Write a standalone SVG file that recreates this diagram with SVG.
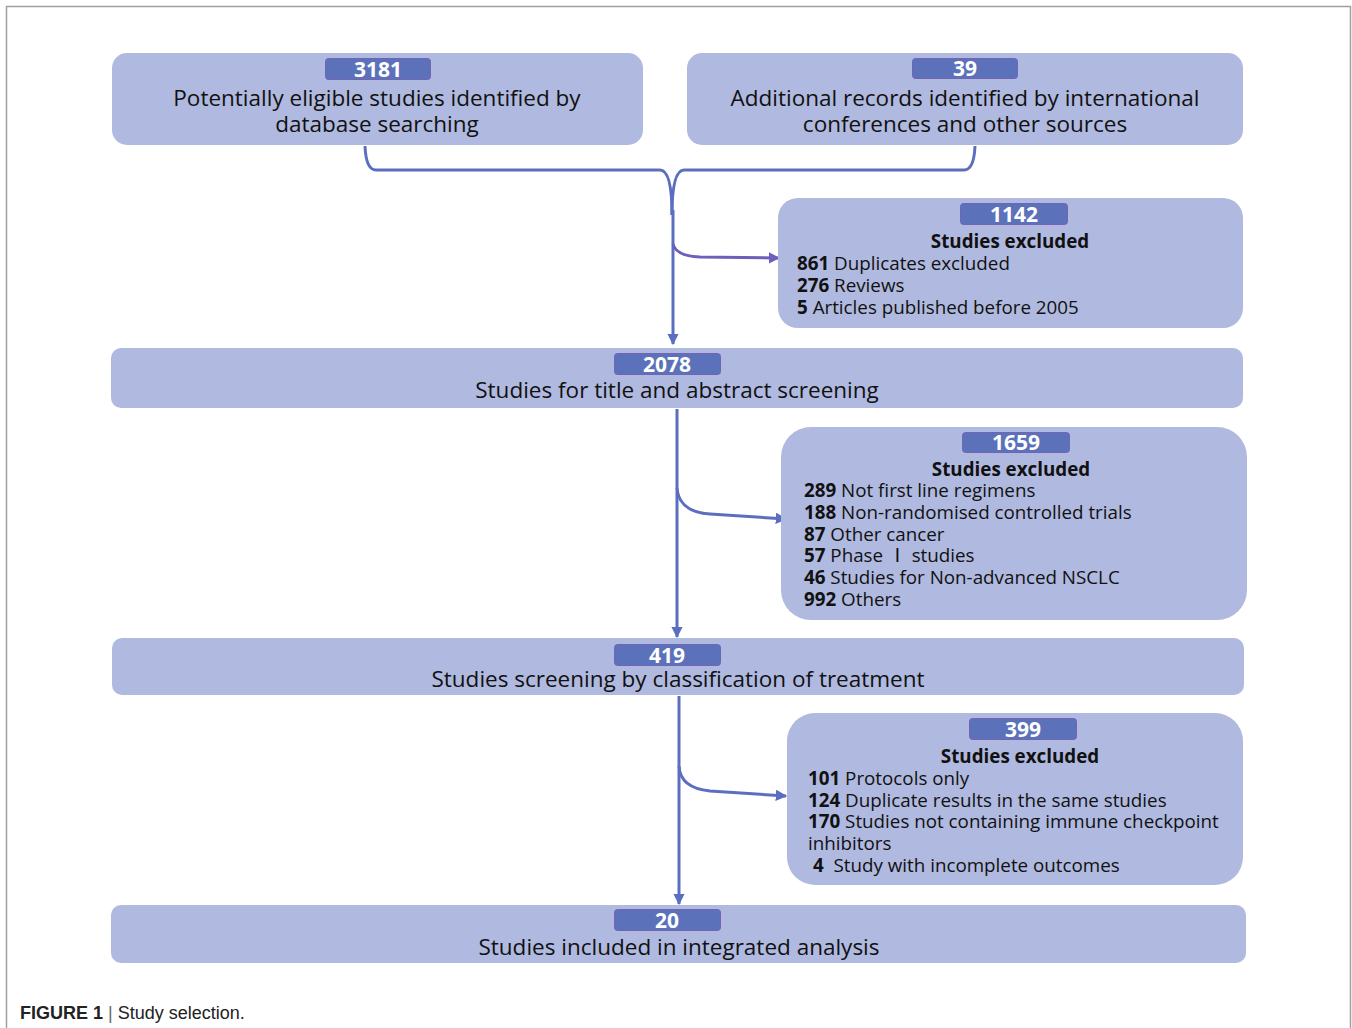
<svg xmlns="http://www.w3.org/2000/svg" width="1352" height="1028" viewBox="0 0 1352 1028">
<defs>
<style>
.box{fill:#b0b9df;}
.badge{fill:#5b72bb;stroke:#7462b4;stroke-width:1;}
.num{font-family:"Open Sans","Noto Sans",sans-serif;font-weight:bold;font-size:21px;fill:#ffffff;text-anchor:middle;}
.t{font-family:"Open Sans","Noto Sans","Noto Sans CJK SC",sans-serif;font-size:22.5px;fill:#111111;}
.c{text-anchor:middle;}
.s{font-family:"Open Sans","Noto Sans","Noto Sans CJK SC",sans-serif;font-size:18.8px;fill:#111111;}
.b{font-weight:bold;}
.ln{fill:none;stroke:#5b6ec0;stroke-width:3;}
.lp{fill:none;stroke:#6e5fbb;stroke-width:3;}
</style>
<marker id="ah" viewBox="0 0 10 10" refX="9" refY="5" markerWidth="3.8" markerHeight="3.8" orient="auto" markerUnits="strokeWidth">
<path d="M0,0 L10,5 L0,10 z" fill="#5b6ec0"/>
</marker>
<marker id="ahp" viewBox="0 0 10 10" refX="9" refY="5" markerWidth="3.8" markerHeight="3.8" orient="auto" markerUnits="strokeWidth">
<path d="M0,0 L10,5 L0,10 z" fill="#6e5fbb"/>
</marker>
</defs>
<rect width="1352" height="1028" fill="#ffffff"/>
<path d="M6.5,1028 V6.5 H1350.5 V1028" fill="none" stroke="#a0a0a0" stroke-width="1.5"/>

<g id="connectors">
<path class="ln" d="M365,146 Q366,170 376,170 H660 Q672,170 672,215"/>
<path class="ln" d="M975,146 Q974,170 964,170 H684 Q672,170 672,215"/>
<path class="ln" d="M673,210 V344" marker-end="url(#ah)"/>
<path class="lp" d="M673,244 Q676,256 700,257 L779,258" marker-end="url(#ahp)"/>
<path class="ln" d="M677,409 V637" marker-end="url(#ah)"/>
<path class="ln" d="M677,488 Q679,512 710,514 L786,519" marker-end="url(#ah)"/>
<path class="ln" d="M679,696 V904" marker-end="url(#ah)"/>
<path class="ln" d="M679,766 Q680,788 710,791 L786,796" marker-end="url(#ah)"/>
</g>

<g id="n3181">
<rect class="box" x="112" y="53" width="531" height="92" rx="15"/>
<rect class="badge" x="325.5" y="58.5" width="105" height="21" rx="3"/>
<text class="num" x="378" y="76.5">3181</text>
<text class="t c" x="377" y="106">Potentially eligible studies identified by</text>
<text class="t c" x="377" y="132">database searching</text>
</g>

<g id="n39">
<rect class="box" x="687" y="53" width="556" height="92" rx="15"/>
<rect class="badge" x="912.5" y="58.5" width="105" height="20" rx="3"/>
<text class="num" x="965" y="76">39</text>
<text class="t c" x="965" y="106">Additional records identified by international</text>
<text class="t c" x="965" y="132">conferences and other sources</text>
</g>

<g id="n1142">
<rect class="box" x="778" y="198" width="465" height="130" rx="20"/>
<rect class="badge" x="960.5" y="203.5" width="107" height="21" rx="3"/>
<text class="num" x="1014" y="221.5">1142</text>
<text class="s c b" x="1010" y="248">Studies excluded</text>
<text class="s" x="797" y="270"><tspan class="b">861</tspan> Duplicates excluded</text>
<text class="s" x="797" y="292"><tspan class="b">276</tspan> Reviews</text>
<text class="s" x="797" y="314"><tspan class="b">5</tspan> Articles published before 2005</text>
</g>

<g id="n2078">
<rect class="box" x="111" y="348" width="1132" height="60" rx="10"/>
<rect class="badge" x="614.5" y="353.5" width="106" height="21" rx="3"/>
<text class="num" x="667" y="371.5">2078</text>
<text class="t c" x="677" y="398">Studies for title and abstract screening</text>
</g>

<g id="n1659">
<rect class="box" x="781" y="427" width="466" height="193" rx="30"/>
<rect class="badge" x="962.5" y="432.5" width="107" height="20" rx="3"/>
<text class="num" x="1016" y="449.5">1659</text>
<text class="s c b" x="1011" y="476">Studies excluded</text>
<text class="s" x="804" y="497"><tspan class="b">289</tspan> Not first line regimens</text>
<text class="s" x="804" y="519"><tspan class="b">188</tspan> Non-randomised controlled trials</text>
<text class="s" x="804" y="541"><tspan class="b">87</tspan> Other cancer</text>
<text class="s" x="804" y="562"><tspan class="b">57</tspan> Phase Ⅰ studies</text>
<text class="s" x="804" y="584"><tspan class="b">46</tspan> Studies for Non-advanced NSCLC</text>
<text class="s" x="804" y="606"><tspan class="b">992</tspan> Others</text>
</g>

<g id="n419">
<rect class="box" x="112" y="638" width="1132" height="57" rx="10"/>
<rect class="badge" x="614.5" y="644.5" width="106" height="21" rx="3"/>
<text class="num" x="667" y="662.5">419</text>
<text class="t c" x="678" y="687">Studies screening by classification of treatment</text>
</g>

<g id="n399">
<rect class="box" x="787" y="713" width="456" height="172" rx="28"/>
<rect class="badge" x="969.5" y="718.5" width="107" height="21" rx="3"/>
<text class="num" x="1023" y="736.5">399</text>
<text class="s c b" x="1020" y="763">Studies excluded</text>
<text class="s" x="808" y="785"><tspan class="b">101</tspan> Protocols only</text>
<text class="s" x="808" y="807"><tspan class="b">124</tspan> Duplicate results in the same studies</text>
<text class="s" x="808" y="828"><tspan class="b">170</tspan> Studies not containing immune checkpoint</text>
<text class="s" x="808" y="850">inhibitors</text>
<text class="s" x="813" y="872" xml:space="preserve"><tspan class="b">4</tspan>  Study with incomplete outcomes</text>
</g>

<g id="n20">
<rect class="box" x="111" y="905" width="1135" height="58" rx="10"/>
<rect class="badge" x="614.5" y="909.5" width="106" height="21" rx="3"/>
<text class="num" x="667" y="927.5">20</text>
<text class="t c" x="679" y="955">Studies included in integrated analysis</text>
</g>

<g id="caption">
<text x="20" y="1019" font-family="Liberation Sans, Arial, sans-serif" font-size="18px" fill="#222" xml:space="preserve"><tspan font-weight="bold">FIGURE 1</tspan><tspan fill="#666"> | </tspan>Study selection.</text>
</g>
</svg>
